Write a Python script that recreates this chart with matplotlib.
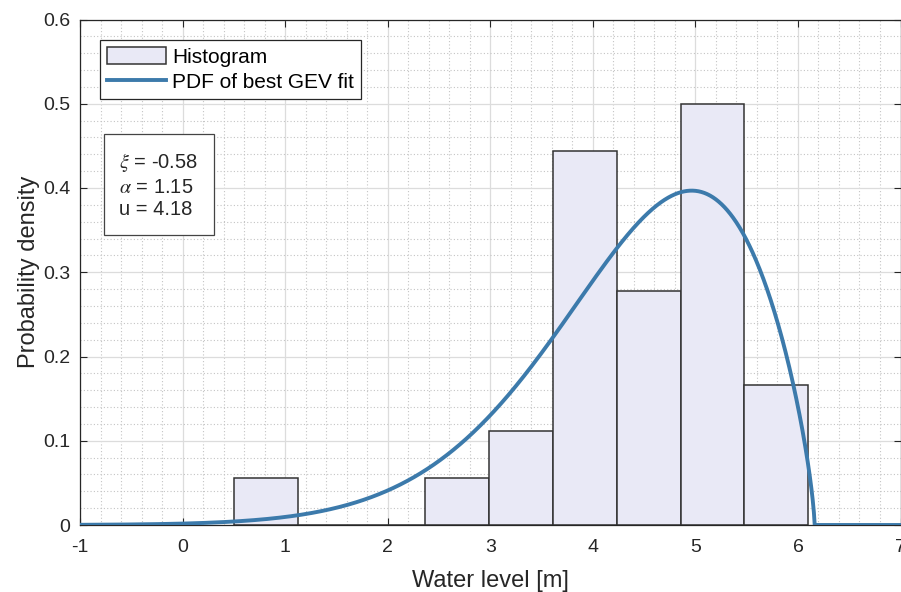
import numpy as np
import matplotlib.pyplot as plt
from matplotlib.ticker import MultipleLocator

plt.rcParams["font.family"] = "Liberation Sans"
plt.rcParams["mathtext.fontset"] = "stix"
plt.rcParams["axes.unicode_minus"] = False

# histogram of annual maxima (density normalised)
bin_edges = [0.5, 1.1222, 1.7444, 2.3667, 2.9889, 3.6111, 4.2333, 4.8556, 5.4778, 6.1]
bin_heights = [0.0556, 0.0, 0.0, 0.0556, 0.1111, 0.4444, 0.2778, 0.5, 0.1667]

# fitted GEV parameters shown in the text box
xi = -0.58
alpha = 1.15
u = 4.18

x_lim = (-1, 7)
y_lim = (0, 0.6)
x_ticks = [-1, 0, 1, 2, 3, 4, 5, 6, 7]
y_ticks = [0, 0.1, 0.2, 0.3, 0.4, 0.5, 0.6]
y_ticklabels = ["0", "0.1", "0.2", "0.3", "0.4", "0.5", "0.6"]


def gev_pdf(x, k, sigma, mu):
    z = 1 + k * (x - mu) / sigma
    pdf = np.zeros_like(x)
    ok = z > 0
    t = z[ok]
    pdf[ok] = (1 / sigma) * t ** (-1 - 1 / k) * np.exp(-t ** (-1 / k))
    return pdf


xx = np.linspace(x_lim[0], x_lim[1], 2000)
yy = gev_pdf(xx, xi, alpha, u)

fig = plt.figure(figsize=(9.01, 5.92), dpi=100)
ax = fig.add_axes([80 / 901, 1 - 525 / 592, 820.5 / 901, 505.5 / 592])

dark = "#262626"
widths = np.diff(bin_edges)
bars = ax.bar(bin_edges[:-1], bin_heights, width=widths, align="edge",
              facecolor="#e9e9f6", edgecolor="#333333", linewidth=1.1,
              label="Histogram", zorder=2)
line, = ax.plot(xx, yy, color="#3c7aab", linewidth=2.8, label="PDF of best GEV fit", zorder=3)

ax.set_xlim(x_lim)
ax.set_ylim(y_lim)
ax.set_xticks(x_ticks)
ax.set_yticks(y_ticks)
ax.set_yticklabels(y_ticklabels)
ax.xaxis.set_minor_locator(MultipleLocator(0.2))
ax.yaxis.set_minor_locator(MultipleLocator(0.02))
ax.grid(which="major", color="#dcdcdc", linewidth=0.9, zorder=0)
ax.grid(which="minor", color="#c4c4c4", linestyle=(0, (1, 2)), linewidth=0.8, zorder=0)
ax.set_axisbelow(True)
ax.tick_params(which="major", direction="in", length=5, width=0.8, colors=dark,
               labelsize=14, top=True, right=True)
ax.tick_params(axis="x", which="major", pad=10)
ax.tick_params(axis="y", which="major", pad=7)
ax.tick_params(which="minor", length=0)
for s in ax.spines.values():
    s.set_color(dark)
    s.set_linewidth(0.9)

ax.set_xlabel("Water level [m]", fontsize=17, color=dark, labelpad=10)
ax.set_ylabel("Probability density", fontsize=17, color=dark, labelpad=2)

leg = ax.legend([bars, line], ["Histogram", "PDF of best GEV fit"],
                loc="upper left", bbox_to_anchor=(20 / 820.5, 1 - 20 / 505.5),
                fontsize=15, fancybox=False, framealpha=1, edgecolor=dark,
                borderpad=0.35, handlelength=2.8, handleheight=0.9, handletextpad=0.3,
                labelspacing=0.25, borderaxespad=0)
leg.get_frame().set_linewidth(0.9)

ax.text(0.048, 0.74, "$\\xi$ = -0.58\n$\\alpha$ = 1.15\nu = 4.18",
        transform=ax.transAxes, fontsize=14.5, color=dark, va="top", ha="left",
        linespacing=1.25,
        bbox=dict(boxstyle="square,pad=0.75", facecolor="white", edgecolor="#444444",
                  linewidth=0.9))

fig.savefig("out.png", dpi=100)
